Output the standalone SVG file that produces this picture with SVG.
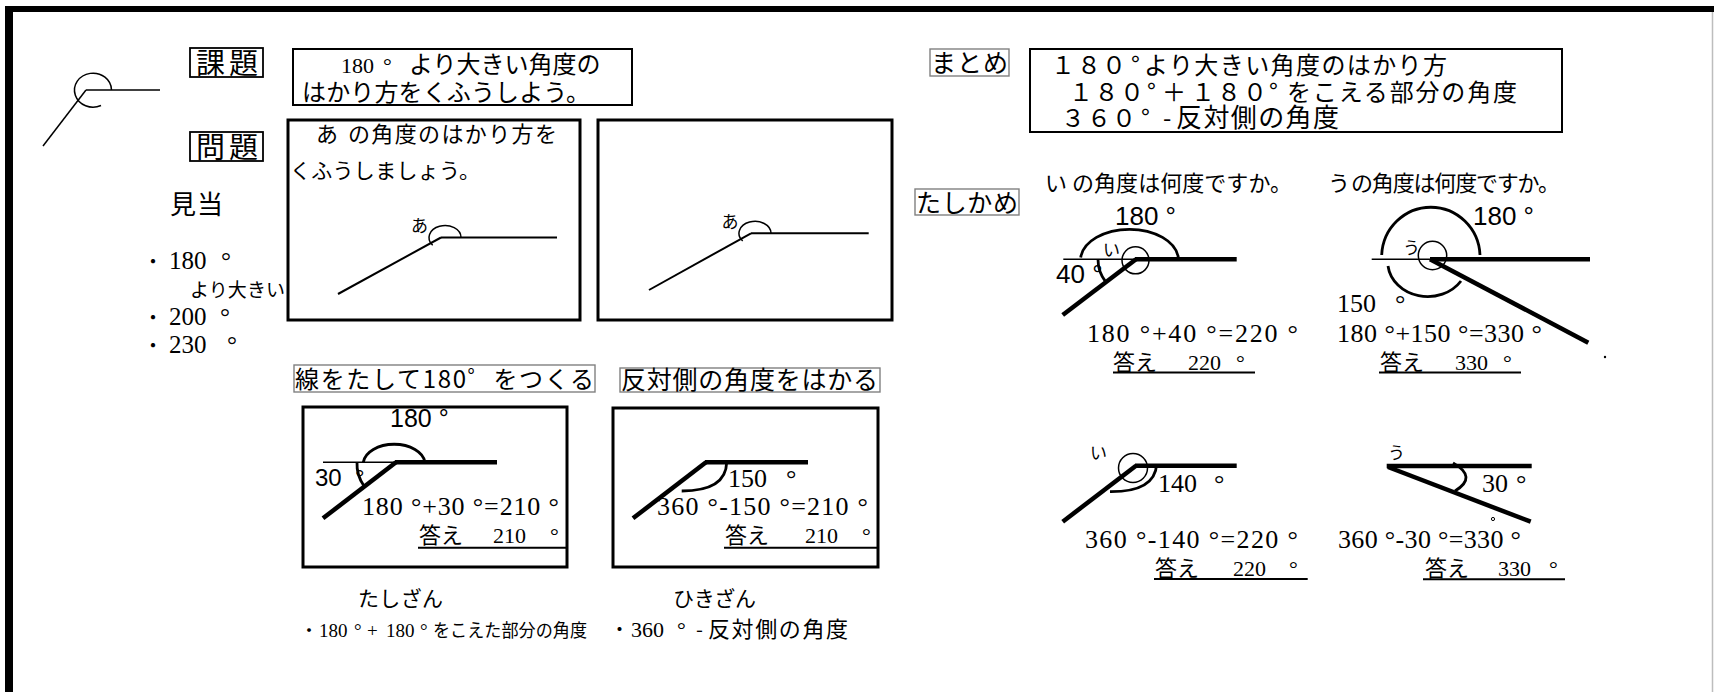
<svg xmlns="http://www.w3.org/2000/svg" width="1714" height="692" viewBox="0 0 1714 692">
<style>
.jp{font-family:"Noto Sans CJK JP","Noto Sans",sans-serif;fill:#000}
.se{font-family:"Liberation Serif","Noto Sans CJK JP",serif;fill:#000}
.sa{font-family:"Liberation Sans","Noto Sans CJK JP",sans-serif;fill:#000}
.thin{fill:none;stroke:#000;stroke-width:1.5}
.ln{fill:none;stroke:#000;stroke-width:2}
.thick{fill:none;stroke:#000;stroke-width:4.5}
.arc{fill:none;stroke:#000;stroke-width:2.8}
.box{fill:none;stroke:#000;stroke-width:3}
.kbox{fill:none;stroke:#000;stroke-width:1.8}
.gbox{fill:none;stroke:#808080;stroke-width:1.4}
.ul{stroke:#000;stroke-width:2}
</style>
<rect width="1714" height="692" fill="#fff"/>
<g id="frame">
<rect x="5" y="6" width="1709" height="6" fill="#000"/>
<rect x="5" y="6" width="8" height="686" fill="#000"/>
<line x1="1712.5" y1="12" x2="1712.5" y2="692" stroke="#bdbdbd" stroke-width="1.5"/>
</g>
<g id="icon">
<path class="thin" d="M 111.5 90 A 18.5 17 0 1 0 101 105.5"/>
<line class="thin" x1="86" y1="90" x2="160" y2="90"/>
<line class="thin" x1="86" y1="90" x2="43" y2="146"/>
</g>
<g id="kadai">
<rect class="kbox" x="190" y="48" width="73" height="29"/>
<text class="jp" x="196" y="74" font-size="29" textLength="62">課題</text>
<rect class="ln" x="293" y="49" width="339" height="56"/>
<text y="73" font-size="24"><tspan class="se" x="341" font-size="22">180</tspan><tspan class="se" x="383" font-size="22">°</tspan><tspan class="jp" x="409">より大きい角度の</tspan></text>
<text class="jp" x="302" y="101" font-size="24" textLength="288">はかり方をくふうしよう。</text>
</g>
<g id="mondai">
<rect class="kbox" x="190" y="132" width="73" height="29"/>
<text class="jp" x="196" y="158" font-size="29" textLength="62">問題</text>
</g>
<g id="box1">
<rect class="box" x="288" y="120" width="292" height="200"/>
<text class="jp" y="142" font-size="22"><tspan x="316">あ</tspan><tspan x="348" textLength="209">の角度のはかり方を</tspan></text>
<text class="jp" x="290" y="178" font-size="21" textLength="190">くふうしましょう。</text>
<line class="ln" x1="441" y1="237.5" x2="557" y2="237.5"/>
<line class="ln" x1="441" y1="237.5" x2="338" y2="294"/>
<path class="thin" d="M 432.7 245.2 A 16 12 0 1 1 461 237.5"/>
<text class="jp" x="411" y="232" font-size="17">あ</text>
</g>
<g id="box2">
<rect class="box" x="598" y="120" width="294" height="200"/>
<line class="ln" x1="751" y1="233.3" x2="868.7" y2="233.3"/>
<line class="ln" x1="751" y1="233.3" x2="649" y2="290"/>
<path class="thin" d="M 742.7 241 A 16 12 0 1 1 771 233.3"/>
<text class="jp" x="721.5" y="228" font-size="17">あ</text>
</g>
<g id="mitoshi">
<text class="jp" x="170" y="214" font-size="26" textLength="53">見当</text>
<text class="jp" x="143" y="269" font-size="20">・</text>
<text class="se" y="269" font-size="25"><tspan x="169">180</tspan><tspan x="221">°</tspan></text>
<text class="jp" x="190" y="297" font-size="19" textLength="95">より大きい</text>
<text class="jp" x="143" y="325" font-size="20">・</text>
<text class="se" y="325" font-size="25"><tspan x="169">200</tspan><tspan x="220">°</tspan></text>
<text class="jp" x="143" y="353" font-size="20">・</text>
<text class="se" y="353" font-size="25"><tspan x="169">230</tspan><tspan x="227">°</tspan></text>
</g>
<g id="tashizan">
<rect class="gbox" x="294" y="365" width="301" height="27"/>
<text class="jp" x="295" y="388" font-size="24" textLength="299">線をたして180゜をつくる</text>
<rect class="box" x="303" y="407" width="264" height="160"/>
<text class="sa" x="390" y="427" font-size="25">180 °</text>
<line class="thin" x1="323" y1="462.3" x2="395" y2="462.3"/>
<line class="thick" x1="395" y1="462.3" x2="497" y2="462.3"/>
<line class="thick" x1="396" y1="462.3" x2="323" y2="518.3"/>
<path class="arc" d="M 363.3 462.3 A 31 20 0 0 1 425 462.3"/>
<path class="arc" d="M 357 462.3 A 38 38 0 0 0 364 486"/>
<text class="sa" y="486" font-size="24"><tspan x="315">30</tspan><tspan x="355">°</tspan></text>
<text class="se" x="362" y="515" font-size="26" textLength="197">180 °+30 °=210 °</text>
<text class="jp" x="419" y="543" font-size="22">答え</text>
<text class="se" y="543" font-size="22"><tspan x="493">210</tspan><tspan x="550">°</tspan></text>
<line class="ul" x1="418" y1="547.7" x2="567" y2="547.7"/>
<text class="jp" x="358" y="606" font-size="21" textLength="85">たしざん</text>
<text y="637" font-size="19"><tspan class="jp" x="300" font-size="18">・</tspan><tspan class="se" x="319">180</tspan><tspan class="se" x="354">°</tspan><tspan class="se" x="367">+</tspan><tspan class="se" x="386">180</tspan><tspan class="se" x="420">°</tspan><tspan class="jp" x="433" font-size="18" textLength="154" lengthAdjust="spacingAndGlyphs">をこえた部分の角度</tspan></text>
</g>
<g id="hikizan">
<rect class="gbox" x="620" y="368" width="260" height="24"/>
<text class="jp" x="621" y="389" font-size="25" textLength="257">反対側の角度をはかる</text>
<rect class="box" x="613" y="408" width="265" height="159"/>
<line class="thick" x1="705" y1="462.3" x2="808" y2="462.3"/>
<line class="thick" x1="706" y1="462.3" x2="633" y2="518.3"/>
<path class="arc" d="M 726.7 462.3 Q 726 491 681.7 491"/>
<text class="se" y="487" font-size="26"><tspan x="728">150</tspan><tspan x="786">°</tspan></text>
<text class="se" x="657" y="515" font-size="26" textLength="211">360 °-150 °=210 °</text>
<text class="jp" x="725" y="543" font-size="22">答え</text>
<text class="se" y="543" font-size="22"><tspan x="805">210</tspan><tspan x="862">°</tspan></text>
<line class="ul" x1="724" y1="547.7" x2="878" y2="547.7"/>
<text class="jp" x="673" y="606" font-size="21" textLength="83">ひきざん</text>
<text y="637" font-size="22"><tspan class="jp" x="610" font-size="19">・</tspan><tspan class="se" x="631">360</tspan><tspan class="se" x="677">°</tspan><tspan class="jp" x="696" font-size="20">-</tspan><tspan class="jp" x="708" font-size="22" textLength="140">反対側の角度</tspan></text>
</g>
<g id="matome">
<rect class="gbox" x="930" y="49" width="79" height="27"/>
<text class="jp" x="931" y="72" font-size="25" textLength="77">まとめ</text>
<rect class="ln" x="1030" y="49" width="532" height="83"/>
<text class="jp" font-size="24"><tspan x="1051 1077 1102" y="74">１８０</tspan><tspan x="1131" y="74">°</tspan><tspan x="1144" y="74" textLength="303">より大きい角度のはかり方</tspan><tspan x="1069 1094.5 1120" y="100.5">１８０</tspan><tspan x="1147" y="100.5">°</tspan><tspan x="1162" y="100.5">＋</tspan><tspan x="1191 1217 1243" y="100.5">１８０</tspan><tspan x="1269" y="100.5">°</tspan><tspan x="1287" y="100.5" textLength="230">をこえる部分の角度</tspan><tspan x="1061 1087 1112" y="127">３６０</tspan><tspan x="1141" y="127">°</tspan><tspan x="1163" y="127">-</tspan><tspan x="1176" y="127" font-size="26" textLength="163">反対側の角度</tspan></text>
</g>
<g id="tashikame">
<rect class="gbox" x="915" y="189" width="104" height="26"/>
<text class="jp" x="916" y="212" font-size="25" textLength="102">たしかめ</text>
</g>
<g id="q-i">
<text class="jp" y="191" font-size="22"><tspan x="1045">い</tspan><tspan x="1072" textLength="220">の角度は何度ですか。</tspan></text>
<text class="sa" x="1115" y="225" font-size="26">180 °</text>
<path class="arc" d="M 1080.7 257.5 A 49 31 0 0 1 1178.3 257.5"/>
<line class="thin" x1="1063.3" y1="259.3" x2="1135" y2="259.3"/>
<line class="thick" x1="1135" y1="259.3" x2="1236.7" y2="259.3"/>
<line class="thick" x1="1136" y1="259.3" x2="1062.7" y2="315"/>
<circle class="thin" cx="1135.5" cy="260.3" r="13.5"/>
<text class="jp" x="1103" y="256" font-size="17">い</text>
<text class="sa" x="1056" y="283" font-size="26">40 °</text>
<path class="arc" d="M 1098 259.3 A 37 37 0 0 0 1105.7 281.9"/>
<text class="se" x="1087" y="341.7" font-size="26" textLength="211">180 °+40 °=220 °</text>
<text class="jp" x="1113" y="370" font-size="22">答え</text>
<text class="se" y="370" font-size="22"><tspan x="1188">220</tspan><tspan x="1236">°</tspan></text>
<line class="ul" x1="1113" y1="372.5" x2="1255" y2="372.5"/>
</g>
<g id="q-u">
<text class="jp" y="191" font-size="22"><tspan x="1328">う</tspan><tspan x="1351" textLength="209">の角度は何度ですか。</tspan></text>
<text class="sa" x="1473" y="225" font-size="26">180 °</text>
<path class="arc" d="M 1381.7 255 A 49.2 50 0 0 1 1480 255"/>
<path class="arc" d="M 1388 266 A 40 35 0 0 0 1461 281"/>
<circle class="thin" cx="1432.5" cy="255.5" r="14.2"/>
<text class="jp" x="1403" y="254" font-size="17">う</text>
<line class="thin" x1="1371.7" y1="259.3" x2="1430" y2="259.3"/>
<line class="thick" x1="1430" y1="259.3" x2="1590" y2="259.3"/>
<line class="thick" x1="1430" y1="259.3" x2="1588.3" y2="342.7"/>
<text class="se" y="311.7" font-size="26"><tspan x="1337">150</tspan><tspan x="1395">°</tspan></text>
<text class="se" x="1337" y="341.7" font-size="26" textLength="205">180 °+150 °=330 °</text>
<text class="jp" x="1380" y="370" font-size="22">答え</text>
<text class="se" y="370" font-size="22"><tspan x="1455">330</tspan><tspan x="1503">°</tspan></text>
<line class="ul" x1="1379" y1="372.5" x2="1521" y2="372.5"/>
<circle cx="1605" cy="357" r="1.2" fill="#000"/>
</g>
<g id="q-i2">
<text class="jp" x="1090" y="459" font-size="17">い</text>
<circle class="thin" cx="1133" cy="468" r="14.5"/>
<line class="thick" x1="1135" y1="465.7" x2="1236.7" y2="465.7"/>
<line class="thick" x1="1136" y1="465.7" x2="1062.7" y2="521.7"/>
<path class="arc" d="M 1156.7 464 Q 1155 492 1110 491.7"/>
<text class="se" y="491.7" font-size="26"><tspan x="1158">140</tspan><tspan x="1214">°</tspan></text>
<text class="se" x="1085" y="548" font-size="26" textLength="213">360 °-140 °=220 °</text>
<text class="jp" x="1155" y="576" font-size="22">答え</text>
<text class="se" y="576" font-size="22"><tspan x="1233">220</tspan><tspan x="1289">°</tspan></text>
<line class="ul" x1="1154" y1="579" x2="1307.7" y2="579"/>
</g>
<g id="q-u2">
<text class="jp" x="1388" y="459" font-size="17">う</text>
<line class="thick" x1="1386.7" y1="466" x2="1531.7" y2="466"/>
<line class="thick" x1="1388" y1="467" x2="1530.7" y2="521.7"/>
<path class="arc" d="M 1453 463 Q 1478 477 1455 491"/>
<text class="se" y="491.7" font-size="26"><tspan x="1482">30</tspan><tspan x="1516">°</tspan></text>
<circle cx="1493" cy="519" r="1.6" fill="none" stroke="#000" stroke-width="1"/>
<text class="se" x="1338" y="548" font-size="26" textLength="183">360 °-30 °=330 °</text>
<text class="jp" x="1425" y="576" font-size="22">答え</text>
<text class="se" y="576" font-size="22"><tspan x="1498">330</tspan><tspan x="1549">°</tspan></text>
<line class="ul" x1="1423" y1="579.3" x2="1565" y2="579.3"/>
</g>
</svg>
